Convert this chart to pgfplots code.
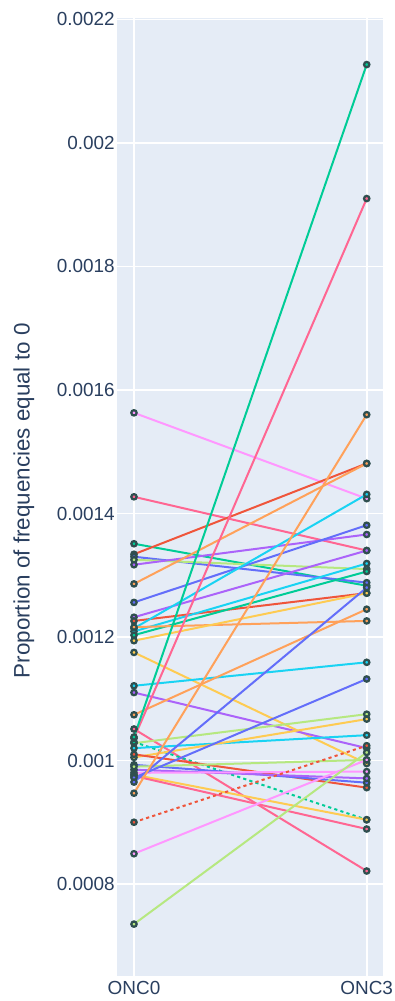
\documentclass[border=0pt]{standalone}
\usepackage{pgfplots}
\pgfplotsset{compat=1.18}
\usepackage{fontspec}
\setmainfont{Liberation Sans}

\definecolor{pbg}{HTML}{E5ECF6}
\definecolor{ptext}{HTML}{2A3F5F}
\definecolor{medge}{HTML}{2F4F4F}
\definecolor{cblue}{HTML}{636EFA}
\definecolor{cred}{HTML}{EF553B}
\definecolor{cgreen}{HTML}{00CC96}
\definecolor{cpurple}{HTML}{AB63FA}
\definecolor{corange}{HTML}{FFA15A}
\definecolor{ccyan}{HTML}{19D3F3}
\definecolor{cpinkred}{HTML}{FF6692}
\definecolor{clime}{HTML}{B6E880}
\definecolor{cpink}{HTML}{FF97FF}
\definecolor{cyellow}{HTML}{FECB52}

\pgfplotsset{
  pair/.style={color=#1, line width=1.5pt, mark=*, mark size=2pt,
    mark options={solid, draw=medge, fill=#1, line width=1.7pt}},
  dotline/.style={dash pattern=on 2.4pt off 2.4pt},
}
% one sample: colour, value at ONC0, value at ONC3
\newcommand{\pair}[4][]{\addplot[pair=#2,#1] coordinates {(0,#3) (1,#4)};}

\begin{document}
\begin{tikzpicture}
\path[use as bounding box] (-87.75pt,-18.75pt) rectangle (208.5pt,732pt);
\begin{axis}[
  at={(0,0)}, anchor=south west,
  scale only axis, width=199.5pt, height=718.5pt,
  xmin=-0.073, xmax=1.070,
  ymin=0.000651, ymax=0.0022024,
  axis background/.style={fill=pbg},
  axis line style={draw=none},
  tick style={draw=none},
  grid=major,
  major grid style={white, line width=1.25pt},
  xtick={0,1}, xticklabels={ONC0,ONC3},
  ytick={0.0008,0.001,0.0012,0.0014,0.0016,0.0018,0.002,0.0022},
  yticklabels={0.0008,0.001,0.0012,0.0014,0.0016,0.0018,0.002,0.0022},
  scaled y ticks=false,
  ticklabel style={font=\fontsize{14.2pt}{16pt}\selectfont, text=ptext, inner sep=0pt},
  yticklabel style={anchor=east, xshift=-1.5pt},
  xticklabel style={anchor=north, yshift=-3.6pt},
  ylabel={Proportion of frequencies equal to 0},
  ylabel style={at={(axis description cs:-0.35,0.496)}, anchor=center,
    font=\fontsize{16.8pt}{19pt}\selectfont, text=ptext, inner sep=0pt},
  clip=false,
]
\pair{cpink}{0.001563}{0.001424}
\pair{cpinkred}{0.001427}{0.001340}
\pair{cgreen}{0.001351}{0.001283}
\pair{cred}{0.001334}{0.001481}
\pair{cblue}{0.001330}{0.001288}
\pair{clime}{0.001325}{0.001310}
\pair{cpurple}{0.001317}{0.001366}
\pair{corange}{0.001286}{0.001481}
\pair{cblue}{0.001256}{0.001381}
\pair{cpurple}{0.001232}{0.001340}
\pair{cred}{0.001226}{0.001271}
\pair{ccyan}{0.001214}{0.001431}
\pair{ccyan}{0.001209}{0.001319}
\pair{cgreen}{0.001203}{0.001306}
\pair{corange}{0.001216}{0.001226}
\pair{cyellow}{0.001194}{0.001271}
\pair{cyellow}{0.001175}{0.000995}
\pair{ccyan}{0.001121}{0.001159}
\pair{cpurple}{0.001110}{0.001020}
\pair{corange}{0.001074}{0.001245}
\pair{cpinkred}{0.001051}{0.000821}
\pair{clime}{0.001028}{0.001075}
\pair[dotline]{cgreen}{0.001030}{0.000904}
\pair{ccyan}{0.001020}{0.001041}
\pair{cyellow}{0.001005}{0.001067}
\pair{cred}{0.001010}{0.000956}
\pair{cblue}{0.000993}{0.000964}
\pair{cpurple}{0.000985}{0.000971}
\pair{cpink}{0.000980}{0.000982}
\pair{cyellow}{0.000977}{0.000904}
\pair{cpinkred}{0.000975}{0.000889}
\pair{clime}{0.000990}{0.001001}
\pair{cblue}{0.000972}{0.001132}
\pair{cblue}{0.000965}{0.001280}
\pair{corange}{0.000947}{0.001560}
\pair[dotline]{cred}{0.000900}{0.001024}
\pair{cpink}{0.000849}{0.001001}
\pair{clime}{0.000735}{0.001013}
\pair{cpinkred}{0.001036}{0.001910}
\pair{cgreen}{0.001038}{0.002127}
\end{axis}
\end{tikzpicture}
\end{document}
